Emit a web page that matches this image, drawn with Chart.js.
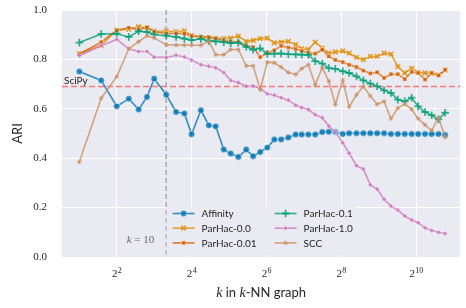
<!DOCTYPE html>
<html>
<head>
<meta charset="utf-8">
<script src="https://cdn.jsdelivr.net/npm/chart.js@4.4.1/dist/chart.umd.min.js"></script>
<style>
  body { margin: 0; background: #fff; }
  canvas { display: block; }
</style>
</head>
<body>
<canvas id="ariChart" width="466" height="308"></canvas>
<script>
// k values of the k-NN graph (x axis, log2 scale)
const kValues = [2, 3, 4, 5, 6, 7, 8, 10, 12, 14, 16, 19, 22, 25, 29, 33, 38, 44, 50, 57,
  65, 74, 84, 96, 110, 123, 139, 158, 180, 203, 229, 263, 296, 339, 385, 438, 497, 565, 642, 729,
  829, 942, 1062, 1207, 1364, 1549, 1751];

const affinity = [0.751, 0.715, 0.610, 0.641, 0.597, 0.648, 0.722, 0.657, 0.587, 0.581,
  0.497, 0.594, 0.533, 0.529, 0.435, 0.419, 0.405, 0.435, 0.408, 0.425,
  0.443, 0.476, 0.476, 0.484, 0.496, 0.496, 0.496, 0.496, 0.506, 0.507,
  0.506, 0.498, 0.501, 0.501, 0.501, 0.501, 0.501, 0.501, 0.498, 0.498,
  0.498, 0.498, 0.498, 0.498, 0.498, 0.498, 0.494];
const parhac00 = [0.823, 0.857, 0.918, 0.922, 0.933, 0.928, 0.915, 0.914, 0.912, 0.915,
  0.897, 0.890, 0.888, 0.886, 0.884, 0.886, 0.894, 0.873, 0.877, 0.884,
  0.886, 0.867, 0.870, 0.873, 0.860, 0.843, 0.840, 0.870, 0.846, 0.825,
  0.830, 0.834, 0.825, 0.808, 0.799, 0.812, 0.812, 0.825, 0.821, 0.771,
  0.745, 0.764, 0.747, 0.745, 0.743, 0.737, 0.757];
const parhac001 = [0.822, 0.870, 0.918, 0.928, 0.920, 0.930, 0.912, 0.905, 0.905, 0.905,
  0.895, 0.892, 0.890, 0.885, 0.876, 0.872, 0.870, 0.855, 0.850, 0.809,
  0.826, 0.837, 0.855, 0.848, 0.843, 0.834, 0.826, 0.823, 0.839, 0.812,
  0.798, 0.789, 0.778, 0.769, 0.755, 0.743, 0.748, 0.725, 0.740, 0.740,
  0.720, 0.749, 0.745, 0.718, 0.745, 0.735, 0.758];
const parhac01 = [0.868, 0.903, 0.904, 0.891, 0.914, 0.911, 0.901, 0.896, 0.891, 0.884,
  0.878, 0.883, 0.875, 0.873, 0.870, 0.866, 0.868, 0.851, 0.839, 0.845,
  0.822, 0.823, 0.824, 0.821, 0.820, 0.819, 0.818, 0.793, 0.783, 0.765,
  0.762, 0.752, 0.745, 0.731, 0.715, 0.702, 0.691, 0.675, 0.664, 0.637,
  0.630, 0.645, 0.610, 0.587, 0.574, 0.557, 0.584];
const parhac10 = [0.815, 0.855, 0.881, 0.843, 0.832, 0.832, 0.809, 0.808, 0.817, 0.810,
  0.797, 0.778, 0.772, 0.766, 0.747, 0.715, 0.706, 0.691, 0.692, 0.682,
  0.661, 0.655, 0.645, 0.635, 0.614, 0.605, 0.597, 0.576, 0.564, 0.530,
  0.506, 0.462, 0.420, 0.370, 0.356, 0.292, 0.275, 0.234, 0.206, 0.190,
  0.166, 0.150, 0.139, 0.118, 0.107, 0.100, 0.095];
const scc = [0.385, 0.643, 0.730, 0.843, 0.872, 0.895, 0.887, 0.859, 0.858, 0.858,
  0.857, 0.857, 0.873, 0.819, 0.819, 0.840, 0.840, 0.774, 0.774, 0.678,
  0.789, 0.786, 0.769, 0.747, 0.739, 0.763, 0.778, 0.698, 0.766, 0.712,
  0.618, 0.716, 0.608, 0.657, 0.690, 0.652, 0.618, 0.630, 0.560, 0.603,
  0.620, 0.598, 0.560, 0.535, 0.512, 0.565, 0.485];

const xTicks = [4, 16, 64, 256, 1024];
const yTicks = [0, 0.2, 0.4, 0.6, 0.8, 1.0];
const scipyAri = 0.69;
const kRef = 10;

function series(label, values, color, style) {
  return Object.assign({
    label,
    data: kValues.map((k, i) => ({ x: k, y: values[i] })),
    borderColor: color,
    backgroundColor: color,
    borderWidth: 1.6,
    pointBorderColor: 'rgba(255,255,255,0.8)',
    pointBorderWidth: 0.6,
    tension: 0
  }, style);
}

const datasets = [
  series('Affinity', affinity, 'rgba(1,115,178,0.8)', { pointStyle: 'circle', pointRadius: 3.2, order: 6 }),
  series('ParHac-0.0', parhac00, 'rgba(222,143,5,0.8)', { pointStyle: 'crossRot', pointRadius: 3.2, pointBorderColor: 'rgba(222,143,5,0.8)', pointBorderWidth: 1.8, order: 5 }),
  series('ParHac-0.01', parhac001, 'rgba(213,94,0,0.8)', { pointStyle: 'rect', pointRadius: 3, order: 4 }),
  series('ParHac-0.1', parhac01, 'rgba(2,158,115,0.8)', { pointStyle: 'cross', pointRadius: 3.8, pointBorderColor: 'rgba(2,158,115,0.8)', pointBorderWidth: 1.8, order: 3 }),
  series('ParHac-1.0', parhac10, 'rgba(204,120,188,0.8)', { pointStyle: 'rectRot', pointRadius: 2.6, order: 2 }),
  series('SCC', scc, 'rgba(202,145,97,0.8)', { pointStyle: 'star', pointRadius: 2.3, pointBorderColor: 'rgba(202,145,97,0.8)', pointBorderWidth: 1, order: 1 })
];

const plotBg = {
  id: 'plotBg',
  beforeDraw(chart) {
    const { ctx, chartArea: a } = chart;
    ctx.save();
    ctx.fillStyle = '#fff';
    ctx.fillRect(0, 0, chart.width, chart.height);
    ctx.fillStyle = '#eaeaf2';
    ctx.fillRect(a.left, a.top, a.right - a.left, a.bottom - a.top);
    ctx.restore();
  }
};

const refLines = {
  id: 'refLines',
  beforeDatasetsDraw(chart) {
    const { ctx, chartArea: a, scales: { x, y } } = chart;
    ctx.save();
    // SciPy baseline
    const ys = y.getPixelForValue(scipyAri);
    ctx.strokeStyle = 'rgba(255,80,80,0.75)';
    ctx.lineWidth = 1.5;
    ctx.setLineDash([6, 3]);
    ctx.beginPath();
    ctx.moveTo(a.left, ys);
    ctx.lineTo(a.right, ys);
    ctx.stroke();
    // k = 10 marker
    const xk = x.getPixelForValue(kRef);
    ctx.strokeStyle = 'rgba(150,150,150,0.8)';
    ctx.setLineDash([5, 3]);
    ctx.beginPath();
    ctx.moveTo(xk, a.top);
    ctx.lineTo(xk, a.bottom);
    ctx.stroke();
    ctx.setLineDash([]);

    ctx.fillStyle = '#262626';
    ctx.font = '10px Lato';
    ctx.textBaseline = 'alphabetic';
    ctx.fillText('SciPy', a.left + 2, ys - 2.5);

    ctx.fillStyle = '#5f6b73';
    ctx.textBaseline = 'middle';
    ctx.font = '11px "Liberation Serif"';
    const rest = ' = 10';
    const wr = ctx.measureText(rest).width;
    ctx.font = 'italic 11px "Liberation Serif"';
    const wk = ctx.measureText('k').width;
    const tx = xk - 12 - wr - wk;
    ctx.fillText('k', tx, a.bottom - 17);
    ctx.font = '11px "Liberation Serif"';
    ctx.fillText(rest, tx + wk, a.bottom - 17);
    ctx.restore();
  }
};

const innerLegend = {
  id: 'innerLegend',
  afterDatasetsDraw(chart) {
    const { ctx, chartArea: a } = chart;
    const sets = chart.data.datasets;
    const boxW = 189, boxH = 48;
    const boxX = (a.left + a.right) / 2 - boxW / 2;
    const boxY = a.bottom - boxH - 2;
    ctx.save();
    ctx.fillStyle = '#eaeaf2';
    ctx.fillRect(boxX, boxY, boxW, boxH);
    ctx.font = '10px Lato';
    ctx.textBaseline = 'middle';
    sets.forEach((ds, i) => {
      const col = Math.floor(i / 3), row = i % 3;
      const x0 = boxX + 6 + col * 102;
      const yy = boxY + 6.5 + row * 14.7;
      ctx.strokeStyle = ds.borderColor;
      ctx.lineWidth = 1.6;
      ctx.beginPath();
      ctx.moveTo(x0, yy);
      ctx.lineTo(x0 + 22, yy);
      ctx.stroke();
      ctx.fillStyle = ds.backgroundColor;
      ctx.strokeStyle = ds.pointBorderColor;
      ctx.lineWidth = ds.pointBorderWidth;
      Chart.helpers.drawPoint(ctx, {
        pointStyle: ds.pointStyle, radius: ds.pointRadius,
        borderWidth: ds.pointBorderWidth, rotation: 0
      }, x0 + 11, yy);
      ctx.fillStyle = '#262626';
      ctx.fillText(ds.label, x0 + 29, yy + 0.5);
    });
    ctx.restore();
  }
};

const xLabels = {
  id: 'xLabels',
  afterDraw(chart) {
    const { ctx, chartArea: a, scales: { x } } = chart;
    ctx.save();
    ctx.fillStyle = '#262626';
    ctx.textBaseline = 'alphabetic';
    xTicks.forEach(v => {
      const px = x.getPixelForValue(v);
      const exp = String(Math.round(Math.log2(v)));
      ctx.font = '11px "Liberation Serif"';
      const wb = ctx.measureText('2').width;
      ctx.font = '8px "Liberation Serif"';
      const we = ctx.measureText(exp).width;
      const left = px - (wb + we) / 2;
      ctx.font = '11px "Liberation Serif"';
      ctx.fillText('2', left, a.bottom + 20);
      ctx.font = '8px "Liberation Serif"';
      ctx.fillText(exp, left + wb + 0.3, a.bottom + 16);
    });

    // axis title: k in k-NN graph
    const parts = [
      ['k', 'italic 14px "Liberation Serif"'],
      [' in ', '13px Lato'],
      ['k', 'italic 14px "Liberation Serif"'],
      ['-NN graph', '13px Lato']
    ];
    let total = 0;
    parts.forEach(p => { ctx.font = p[1]; total += ctx.measureText(p[0]).width; });
    let cx = (a.left + a.right) / 2 - total / 2;
    parts.forEach(p => {
      ctx.font = p[1];
      ctx.fillText(p[0], cx, a.bottom + 40);
      cx += ctx.measureText(p[0]).width;
    });
    ctx.restore();
  }
};

new Chart(document.getElementById('ariChart'), {
  type: 'line',
  data: { datasets },
  options: {
    responsive: false,
    animation: false,
    events: [],
    layout: { padding: { top: 10, right: 0, left: 0, bottom: 0 } },
    plugins: { legend: { display: false }, tooltip: { enabled: false } },
    scales: {
      x: {
        type: 'logarithmic',
        min: 1.451,
        max: 2314,
        afterBuildTicks: s => { s.ticks = xTicks.map(v => ({ value: v })); },
        afterFit: s => { s.height = 51; s.paddingLeft = 0; s.paddingRight = 0; },
        ticks: { display: false },
        grid: { color: '#fff', lineWidth: 1, drawTicks: false },
        border: { display: false }
      },
      y: {
        type: 'linear',
        min: 0,
        max: 1,
        afterBuildTicks: s => { s.ticks = yTicks.map(v => ({ value: v })); },
        afterFit: s => { s.width = 62; s.paddingTop = 0; s.paddingBottom = 0; },
        ticks: {
          padding: 15,
          color: '#262626',
          font: { family: 'Liberation Serif', size: 11 },
          callback: v => v.toFixed(1)
        },
        title: {
          display: true,
          text: 'ARI',
          color: '#262626',
          font: { family: 'Lato', size: 13 },
          padding: { top: 10, bottom: 0 }
        },
        grid: { color: '#fff', lineWidth: 1, drawTicks: false },
        border: { display: false }
      }
    }
  },
  plugins: [plotBg, refLines, innerLegend, xLabels]
});
</script>
</body>
</html>
